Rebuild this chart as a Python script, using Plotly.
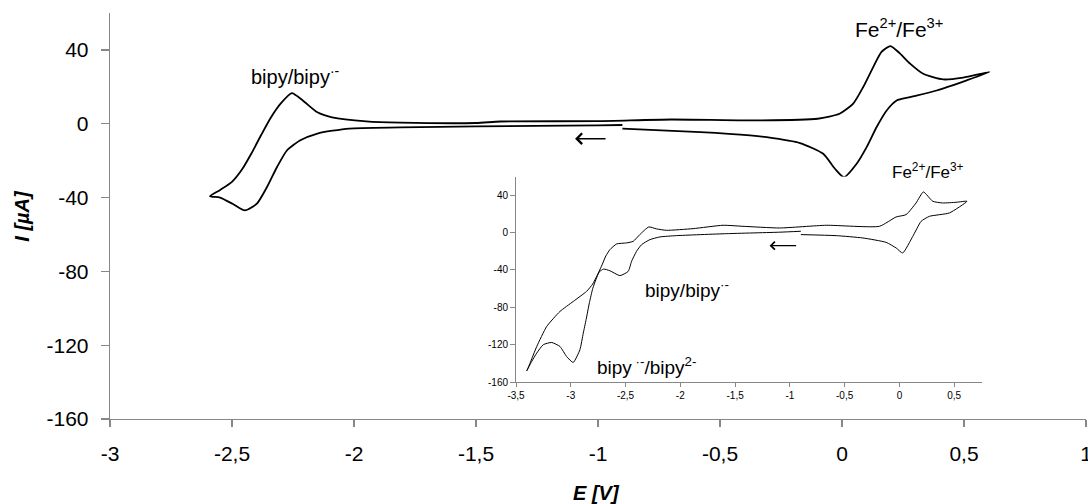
import plotly.graph_objects as go

# ---------------- data ----------------
# Main CV (scan order: start near -0.9 V, sweep negative, reverse, sweep positive, reverse)
main_E = [-0.90, -1.00, -1.50, -1.81, -2.02, -2.15, -2.22, -2.275, -2.316, -2.357, -2.398,
          -2.447, -2.496, -2.549, -2.59,
          -2.55, -2.50, -2.46, -2.42, -2.38, -2.34, -2.30, -2.255, -2.21, -2.15, -2.09,
          -1.95, -1.81, -1.50, -1.40, -1.00, -0.70, -0.38, -0.10, -0.01, 0.046, 0.087,
          0.128, 0.162, 0.199, 0.238, 0.279, 0.333, 0.415, 0.497, 0.604,
          0.511, 0.388, 0.279, 0.224, 0.183, 0.142, 0.101, 0.060, 0.008, -0.029, -0.077,
          -0.172, -0.309, -0.377, -0.58, -0.90]
main_I = [-0.7, -0.9, -1.4, -2.0, -2.6, -5.3, -9.0, -14.5, -23.6, -34.4, -43.3,
          -47.0, -43.5, -40.0, -39.3,
          -36.0, -31.5, -25.0, -16.0, -6.0, 3.5, 11.0, 16.6, 12.6, 6.2, 3.5,
          1.3, 0.6, 0.4, 1.2, 1.4, 2.3, 1.8, 2.7, 5.4, 10.9, 19.9,
          30.7, 38.9, 42.1, 38.0, 32.6, 27.1, 24.0, 25.0, 28.0,
          23.5, 18.0, 14.4, 12.6, 7.2, -1.8, -12.7, -21.7, -29.0, -24.4, -16.3,
          -10.5, -7.3, -6.3, -4.5, -2.7]

# Inset CV (wider potential window)
inset_E = [-0.90, -1.09, -1.58, -2.035, -2.187, -2.278, -2.354, -2.40, -2.445, -2.476,
           -2.552, -2.643, -2.70, -2.74, -2.77, -2.80, -2.83, -2.86, -2.886, -2.917, -2.978,
           -3.038, -3.099, -3.175, -3.251, -3.311, -3.357, -3.402,
           -3.372, -3.311, -3.22, -3.099, -2.978, -2.856, -2.80, -2.76, -2.72, -2.68, -2.643,
           -2.582, -2.491, -2.43, -2.37, -2.288, -2.217, -2.126, -1.883, -1.61, -1.428, -1.093,
           -0.668, -0.182, -0.030, 0.061, 0.152, 0.219, 0.304, 0.395, 0.517, 0.617,
           0.456, 0.274, 0.198, 0.122, 0.030, -0.030, -0.121, -0.334, -0.577, -0.90]
inset_I = [1.5, 0.5, -1.1, -3.2, -4.6, -7.5, -12.9, -20.0, -30.7, -41.5,
           -46.0, -40.8, -39.0, -42.0, -50.0, -60.0, -75.0, -93.0, -107.6, -125.5, -139.0,
           -132.7, -121.9, -117.6, -120.0, -129.0, -138.0, -148.0,
           -139.8, -122.0, -100.5, -84.4, -73.7, -62.9, -55.0, -46.0, -36.0, -25.0, -18.2,
           -12.1, -11.0, -9.3, -2.1, 6.1, 4.0, 2.5, 4.3, 7.9, 6.8, 5.0,
           7.9, 6.8, 16.8, 19.3, 31.8, 43.6, 33.6, 31.8, 32.5, 33.6,
           21.1, 17.5, 12.1, -4.0, -21.8, -16.4, -10.4, -5.7, -3.2, -2.1]

main_xticks = [-3, -2.5, -2, -1.5, -1, -0.5, 0, 0.5, 1]
main_xlabels = ["-3", "-2,5", "-2", "-1,5", "-1", "-0,5", "0", "0,5", "1"]
main_yticks = [-160, -120, -80, -40, 0, 40]
main_ylabels = ["-160", "-120", "-80", "-40", "0", "40"]
inset_xticks = [-3.5, -3, -2.5, -2, -1.5, -1, -0.5, 0, 0.5]
inset_xlabels = ["-3,5", "-3", "-2,5", "-2", "-1,5", "-1", "-0,5", "0", "0,5"]
inset_yticks = [-160, -120, -80, -40, 0, 40]
inset_ylabels = ["-160", "-120", "-80", "-40", "0", "40"]

# ---------------- figure ----------------
FONT = "Arial, Liberation Sans, sans-serif"
AXC = "#878787"

fig = go.Figure()
fig.add_trace(go.Scatter(x=main_E, y=main_I, mode="lines",
                         line=dict(color="black", width=1.8, shape="spline", smoothing=0.6),
                         xaxis="x", yaxis="y", showlegend=False, hoverinfo="skip"))
fig.add_trace(go.Scatter(x=inset_E, y=inset_I, mode="lines",
                         line=dict(color="black", width=1.0, shape="spline", smoothing=0.5),
                         xaxis="x2", yaxis="y2", showlegend=False, hoverinfo="skip"))

fig.update_layout(
    width=1088, height=504,
    margin=dict(l=110, r=2, t=13, b=85, autoexpand=False),
    paper_bgcolor="white", plot_bgcolor="white",
    font=dict(family=FONT, color="black"),
    xaxis=dict(range=[-3, 1], domain=[0, 1], anchor="y", automargin=False,
               tickvals=main_xticks, ticktext=main_xlabels, ticklabeloverflow="allow",
               showgrid=False, zeroline=False, showline=True, linecolor=AXC, linewidth=1.3,
               ticks="outside", ticklen=7, tickcolor=AXC, tickwidth=1.3,
               tickfont=dict(size=21, family=FONT), ticklabelstandoff=8),
    yaxis=dict(range=[-160, 60], domain=[0, 1], anchor="x", automargin=False,
               tickvals=main_yticks, ticktext=main_ylabels,
               showgrid=False, zeroline=False, showline=True, linecolor=AXC, linewidth=1.3,
               ticks="outside", ticklen=8, tickcolor=AXC, tickwidth=1.3,
               tickfont=dict(size=21, family=FONT), ticklabelstandoff=8),
    xaxis2=dict(range=[-3.5, 0.75], domain=[0.416, 0.893], anchor="y2", automargin=False,
                tickvals=inset_xticks, ticktext=inset_xlabels,
                showgrid=False, zeroline=False, showline=True, linecolor=AXC, linewidth=1,
                ticks="outside", ticklen=4, tickcolor=AXC, tickwidth=1,
                tickfont=dict(size=10, family=FONT)),
    yaxis2=dict(range=[-160, 60], domain=[0.091, 0.597], anchor="x2", automargin=False,
                tickvals=inset_yticks, ticktext=inset_ylabels,
                showgrid=False, zeroline=False, showline=True, linecolor=AXC, linewidth=1,
                ticks="outside", ticklen=5, tickcolor=AXC, tickwidth=1,
                tickfont=dict(size=10, family=FONT)),
)

ann = []
# axis titles
ann.append(dict(text="<b><i>I [µA]</i></b>", xref="paper", yref="paper",
                x=-0.0905, y=0.5, textangle=-90, showarrow=False,
                font=dict(size=20, family=FONT), xanchor="center", yanchor="middle"))
ann.append(dict(text="<b><i>E [V]</i></b>", xref="paper", yref="paper",
                x=0.498, y=-0.182, showarrow=False,
                font=dict(size=20, family=FONT), xanchor="center", yanchor="middle"))
# main labels
ann.append(dict(text="bipy/bipy<sup>·-</sup>", x=-2.43, y=26, xref="x", yref="y",
                showarrow=False, xanchor="left", yanchor="middle", font=dict(size=20)))
ann.append(dict(text="Fe<sup>2+</sup>/Fe<sup>3+</sup>", x=0.045, y=52, xref="x", yref="y",
                showarrow=False, xanchor="left", yanchor="middle", font=dict(size=21)))
# scan-direction arrows
ann.append(dict(text="", x=-1.094, y=-8.1, ax=-0.963, ay=-8.1, xref="x", yref="y",
                axref="x", ayref="y", showarrow=True, arrowhead=4, arrowsize=1.3,
                arrowwidth=1.6, arrowcolor="black"))
# inset labels
ann.append(dict(text="Fe<sup>2+</sup>/Fe<sup>3+</sup>", x=-0.088, y=1.025, xref="x2",
                yref="y2 domain", showarrow=False, xanchor="left", yanchor="middle",
                font=dict(size=17)))
ann.append(dict(text="bipy/bipy<sup>·-</sup>", x=-2.341, y=-60, xref="x2", yref="y2",
                showarrow=False, xanchor="left", yanchor="middle", font=dict(size=19)))
ann.append(dict(text="bipy<sup> ·-</sup>/bipy<sup>2-</sup>", x=-2.779, y=-143, xref="x2", yref="y2",
                showarrow=False, xanchor="left", yanchor="middle", font=dict(size=19)))
ann.append(dict(text="", x=-1.185, y=-13.9, ax=-0.929, ay=-13.9, xref="x2", yref="y2",
                axref="x2", ayref="y2", showarrow=True, arrowhead=4, arrowsize=1.2,
                arrowwidth=1.3, arrowcolor="black"))
fig.update_layout(annotations=ann)

fig.write_html("out.html",
               config={"displayModeBar": False, "staticPlot": True},
               post_script="document.body.style.margin='0';document.body.style.padding='0';"
                           "document.body.style.overflow='hidden';")
